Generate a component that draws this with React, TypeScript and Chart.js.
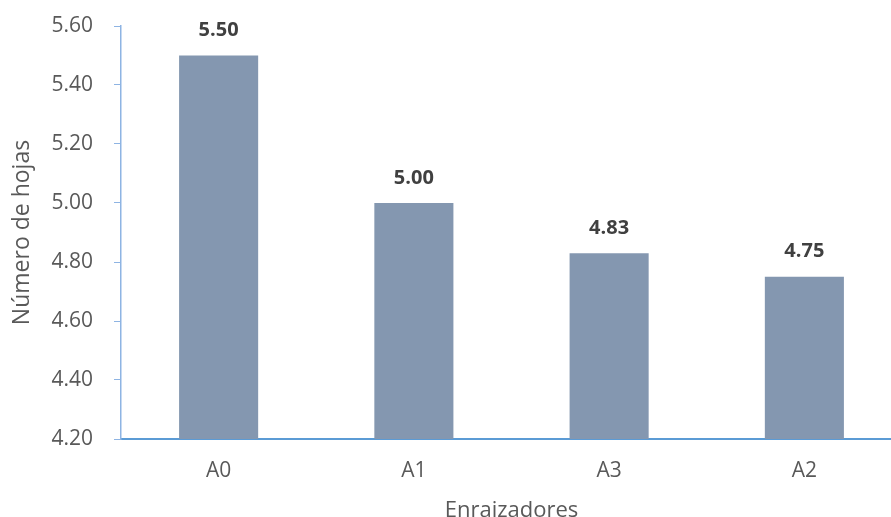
import React, { useEffect, useRef } from "react";
import { Chart, registerables } from "chart.js";

Chart.register(...registerables);

const categories = ["A0", "A1", "A3", "A2"];
const leafCounts = [5.5, 5.0, 4.83, 4.75];
const yTicks = [4.2, 4.4, 4.6, 4.8, 5.0, 5.2, 5.4, 5.6];

const FONT = "'Open Sans', sans-serif";

// Writes each bar's value just above it
const valueLabels = {
  id: "valueLabels",
  afterDatasetsDraw(chart: Chart) {
    const { ctx } = chart;
    const meta = chart.getDatasetMeta(0);
    const values = chart.data.datasets[0].data as number[];
    ctx.save();
    ctx.font = `bold 20px ${FONT}`;
    ctx.fillStyle = "#404040";
    ctx.textAlign = "center";
    ctx.textBaseline = "middle";
    meta.data.forEach((bar: any, i: number) => {
      ctx.fillText(values[i].toFixed(2), bar.x, bar.y - 25);
    });
    ctx.restore();
  },
};

export default function App() {
  const canvasRef = useRef<HTMLCanvasElement | null>(null);

  useEffect(() => {
    if (!canvasRef.current) return;
    const chart = new Chart(canvasRef.current, {
      type: "bar",
      data: {
        labels: categories,
        datasets: [
          {
            data: leafCounts,
            backgroundColor: "#8497B0",
            categoryPercentage: 1,
            barPercentage: 0.405,
          },
        ],
      },
      options: {
        responsive: false,
        animation: false,
        devicePixelRatio: 1,
        layout: { padding: { top: 26, right: 2, left: 0, bottom: 0 } },
        plugins: {
          legend: { display: false },
          tooltip: { enabled: false },
        },
        scales: {
          x: {
            grid: { display: false, drawTicks: false },
            border: { display: true, color: "#5B9BD5", width: 2 },
            ticks: {
              color: "#595959",
              font: { family: FONT, size: 21 },
              padding: 19,
            },
            title: {
              display: true,
              text: "Enraizadores",
              color: "#595959",
              font: { family: FONT, size: 22 },
              padding: { top: 0, bottom: -7 },
            },
            afterFit(scale: any) {
              scale.height = 78;
              scale.paddingLeft = 0;
              scale.paddingRight = 0;
            },
          },
          y: {
            min: yTicks[0],
            max: yTicks[yTicks.length - 1],
            afterBuildTicks(scale: any) {
              scale.ticks = yTicks.map((v) => ({ value: v }));
            },
            grid: {
              drawOnChartArea: false,
              drawTicks: true,
              tickLength: 7,
              color: "#8EB4E3",
            },
            border: { display: true, color: "#8EB4E3", width: 1.5 },
            ticks: {
              color: "#595959",
              font: { family: FONT, size: 21 },
              padding: 21,
              callback: (v: any) => Number(v).toFixed(2),
            },
            title: {
              display: true,
              text: "Número de hojas",
              color: "#595959",
              font: { family: FONT, size: 23 },
              padding: { top: 9, bottom: 0 },
            },
            afterFit(scale: any) {
              scale.width = 121;
              scale.paddingTop = 0;
              scale.paddingBottom = 0;
            },
          },
        },
      },
      plugins: [valueLabels],
    });
    return () => chart.destroy();
  }, []);

  return (
    <div
      style={{
        position: "fixed",
        left: 0,
        top: 0,
        width: 891,
        height: 517,
        overflow: "hidden",
        background: "#ffffff",
      }}
    >
      <canvas
        ref={canvasRef}
        width={904}
        height={517}
        style={{ width: 904, height: 517, display: "block" }}
      />
    </div>
  );
}
